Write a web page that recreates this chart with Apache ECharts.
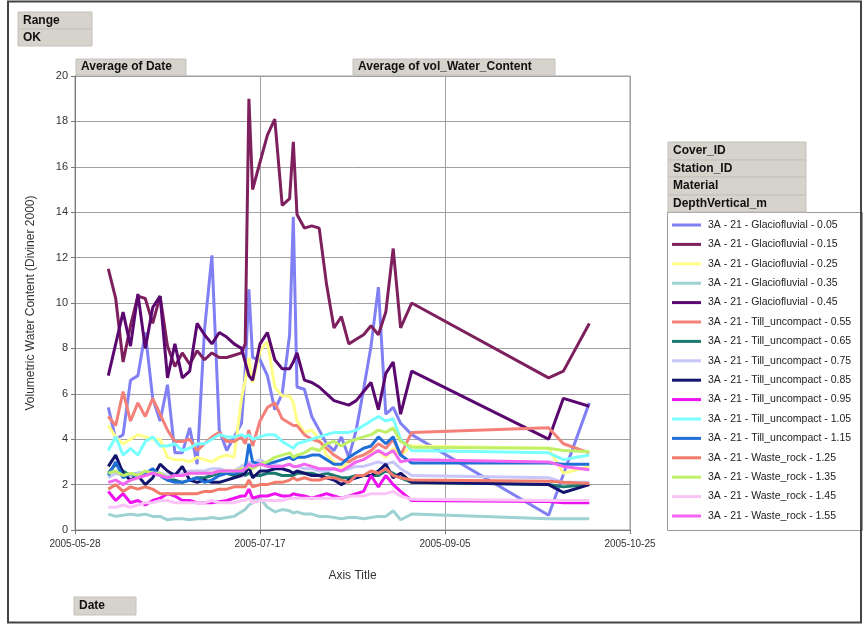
<!DOCTYPE html>
<html>
<head>
<meta charset="utf-8">
<script src="https://cdn.jsdelivr.net/npm/echarts@6/dist/echarts.min.js"></script>
<style>
  html, body { margin: 0; padding: 0; background: #fff; }
  #chart { width: 865px; height: 625px; }
</style>
</head>
<body>
<div id="chart"></div>
<script>
// Reading dates (Diviner 2000 probe, station 21, cover 3A)
const dates = [
  '2005-06-06','2005-06-08','2005-06-10','2005-06-12','2005-06-14','2005-06-16','2005-06-18',
  '2005-06-20','2005-06-22','2005-06-24','2005-06-26','2005-06-28','2005-06-30','2005-07-02',
  '2005-07-04','2005-07-06','2005-07-08','2005-07-10','2005-07-12','2005-07-13','2005-07-14',
  '2005-07-15','2005-07-17','2005-07-19','2005-07-21','2005-07-23','2005-07-25','2005-07-26',
  '2005-07-27','2005-07-29','2005-07-31','2005-08-02','2005-08-04','2005-08-06','2005-08-08',
  '2005-08-10','2005-08-12','2005-08-14','2005-08-16','2005-08-18','2005-08-20','2005-08-22',
  '2005-08-24','2005-08-27','2005-10-03','2005-10-07','2005-10-14'
];

// Average volumetric water content per depth (null = no reading that day)
const glacio005 = [5.4,4.0,4.2,6.6,6.8,8.7,5.8,4.8,6.4,3.4,3.4,4.5,2.9,8.8,12.1,4.4,3.5,4.1,4.7,7.0,10.6,7.6,7.5,6.8,5.3,6.0,8.6,13.8,6.3,6.2,5.0,4.4,3.8,3.5,4.1,3.2,4.4,6.2,8.1,10.7,5.1,5.4,4.7,4.2,0.65,null,5.6];
const glacio015 = [11.5,10.2,7.4,9.0,10.3,10.2,9.1,10.3,8.1,7.2,7.8,7.3,7.9,7.5,7.8,7.6,7.6,7.7,7.8,8.2,19.0,15.0,16.2,17.4,18.1,14.3,14.6,17.1,13.9,13.3,13.4,13.3,10.8,8.9,9.4,8.2,8.4,8.6,9.0,8.6,9.6,12.4,8.9,10.0,6.7,7.0,9.1];
const glacio025 = [4.6,4.1,3.8,4.0,4.2,4.1,4.0,4.0,3.2,3.1,3.1,3.0,3.2,3.1,3.0,3.2,3.3,3.2,5.8,6.6,7.6,6.5,7.9,8.3,6.3,5.9,5.9,5.6,4.8,4.3,4.4,4.0,3.3,3.0,2.7,3.0,3.2,3.3,3.4,3.5,3.2,3.6,3.3,3.7,3.6,2.5,2.8];
const glacio035 = [0.7,0.6,0.65,0.7,0.65,0.7,0.6,0.6,0.45,0.5,0.5,0.45,0.5,0.5,0.55,0.5,0.55,0.6,0.8,0.9,1.1,1.2,1.4,1.0,0.8,0.9,0.85,0.75,0.8,0.7,0.7,0.6,0.6,0.55,0.5,0.55,0.55,0.5,0.55,0.6,0.6,0.85,0.45,0.7,0.5,0.5,0.5];
const glacio045 = [6.8,8.2,9.6,8.1,10.4,8.0,9.8,10.3,6.7,8.2,6.7,7.0,9.1,8.6,8.2,8.7,8.5,8.2,8.0,7.4,6.8,6.6,8.2,8.7,7.5,7.1,7.1,7.4,7.8,6.6,6.5,6.3,6.0,5.7,5.6,5.5,5.7,6.1,6.5,5.3,6.9,7.4,5.1,7.0,4.0,5.8,5.45];
const till055 = [5.0,4.6,6.1,4.8,5.6,5.0,5.8,5.1,4.4,3.9,3.9,4.0,3.5,3.8,4.1,4.3,3.9,3.9,4.1,3.8,4.4,3.7,4.8,5.4,5.6,4.9,4.7,4.6,4.6,4.2,4.0,3.9,3.6,3.3,3.1,3.0,3.2,3.3,3.5,3.8,3.6,4.0,3.3,4.3,4.5,3.8,3.4];
const till065 = [2.5,2.9,2.6,2.4,2.5,2.5,2.6,2.4,2.2,2.2,2.1,2.2,2.3,2.3,2.4,2.5,2.5,2.4,2.5,2.4,2.5,2.4,2.4,2.5,2.5,2.4,2.4,2.4,2.5,2.5,2.5,2.4,2.5,2.4,2.3,2.3,2.4,2.4,2.4,2.4,2.6,2.5,2.3,2.1,2.0,1.9,2.0];
const till075 = [2.3,2.5,2.4,2.4,2.5,2.5,2.6,2.5,2.4,2.5,2.5,2.6,2.6,2.6,2.7,2.7,2.6,2.6,2.8,2.9,3.0,2.9,3.1,2.9,2.9,2.8,2.9,2.8,2.8,2.7,2.7,2.6,2.6,2.7,2.6,2.7,2.8,2.8,2.9,3.0,2.9,3.0,2.7,2.4,2.3,2.1,2.1];
const till085 = [2.8,3.3,2.5,2.2,2.4,2.0,2.3,2.9,2.6,2.4,2.8,2.2,2.1,2.2,2.1,2.1,2.2,2.3,2.4,2.5,2.8,2.3,2.6,2.6,2.7,2.7,2.6,2.5,2.6,2.5,2.4,2.4,2.3,2.2,2.0,2.2,2.3,2.4,2.4,2.6,2.9,2.3,2.5,2.1,2.0,1.65,2.0];
const till095 = [1.7,1.3,1.6,1.2,1.3,1.1,1.3,1.4,1.6,1.5,1.3,1.3,1.2,1.2,1.2,1.25,1.3,1.4,1.5,1.5,1.8,1.4,1.5,1.5,1.6,1.5,1.5,1.6,1.55,1.5,1.4,1.5,1.6,1.5,1.4,1.5,1.6,1.7,2.4,1.9,2.4,2.0,1.7,1.3,1.25,1.2,1.2];
const till105 = [3.5,4.1,3.3,3.6,3.3,3.9,4.1,3.7,3.7,3.8,3.5,3.6,3.8,3.8,4.0,4.2,4.1,4.1,4.2,4.1,4.2,4.0,4.1,4.2,4.2,3.9,3.7,3.6,3.8,3.9,4.0,4.1,4.2,4.3,4.3,4.3,4.4,4.6,4.8,5.0,4.8,4.9,4.0,3.5,3.4,3.1,3.3];
const till115 = [2.4,3.0,2.3,2.5,2.3,2.5,2.7,2.4,2.2,2.1,2.1,2.2,2.3,2.1,2.2,2.4,2.5,2.5,2.6,2.7,3.8,3.0,2.9,2.9,3.0,3.1,3.2,3.1,3.2,3.2,3.3,3.3,3.1,2.9,2.9,3.2,3.4,3.6,3.7,4.1,3.8,4.1,3.3,2.95,2.95,2.9,2.9];
const waste125 = [1.8,2.0,1.7,1.9,1.8,1.9,1.8,1.6,1.6,1.6,1.6,1.6,1.6,1.7,1.7,1.8,1.8,1.9,1.9,1.9,2.2,1.9,2.0,2.0,2.1,2.1,2.2,2.3,2.2,2.3,2.2,2.2,2.3,2.3,2.2,2.1,2.4,2.4,2.6,2.5,2.7,2.4,2.3,2.2,2.15,2.1,2.05];
const waste135 = [2.5,2.6,2.4,2.5,2.4,2.6,2.5,2.5,2.3,2.4,2.4,2.5,2.5,2.5,2.5,2.6,2.6,2.6,2.7,2.7,2.8,2.7,2.9,3.0,3.2,3.3,3.4,3.2,3.3,3.4,3.6,3.5,3.8,3.9,3.7,3.9,4.0,4.1,4.2,4.4,4.3,4.5,3.9,3.65,3.6,3.5,3.45];
const waste145 = [1.0,1.0,1.1,1.0,1.1,1.2,1.2,1.3,1.3,1.2,1.2,1.2,1.2,1.2,1.3,1.2,1.2,1.2,1.3,1.3,1.4,1.2,1.3,1.3,1.3,1.3,1.4,1.4,1.4,1.4,1.4,1.4,1.4,1.4,1.4,1.5,1.5,1.5,1.6,1.6,1.6,1.7,1.5,1.35,1.3,1.3,1.3];
const waste155 = [2.1,2.2,2.0,2.2,2.3,2.4,2.5,2.4,2.3,2.4,2.4,2.5,2.5,2.5,2.5,2.6,2.6,2.6,2.6,2.7,2.9,2.8,2.9,2.8,2.8,2.8,2.9,2.8,2.8,2.9,2.8,2.7,2.7,2.7,2.6,2.8,3.0,3.1,3.3,3.5,3.3,3.5,3.0,3.1,3.0,2.8,2.65];

const seriesNames = [
  '3A - 21 - Glaciofluvial - 0.05','3A - 21 - Glaciofluvial - 0.15','3A - 21 - Glaciofluvial - 0.25',
  '3A - 21 - Glaciofluvial - 0.35','3A - 21 - Glaciofluvial - 0.45','3A - 21 - Till_uncompact - 0.55',
  '3A - 21 - Till_uncompact - 0.65','3A - 21 - Till_uncompact - 0.75','3A - 21 - Till_uncompact - 0.85',
  '3A - 21 - Till_uncompact - 0.95','3A - 21 - Till_uncompact - 1.05','3A - 21 - Till_uncompact - 1.15',
  '3A - 21 - Waste_rock - 1.25','3A - 21 - Waste_rock - 1.35','3A - 21 - Waste_rock - 1.45',
  '3A - 21 - Waste_rock - 1.55'
];
const seriesValues = [glacio005, glacio015, glacio025, glacio035, glacio045, till055, till065, till075,
  till085, till095, till105, till115, waste125, waste135, waste145, waste155];
const seriesColors = ['#8080f4','#7e1f5e','#ffff88','#9ed2d2','#5a0870','#f4807a','#1a7a70','#c8c6fa',
  '#14146e','#ee10ee','#7affff','#2070d8','#f27a6a','#c0f068','#fac4f6','#f466f0'];

// Axis settings
const xStart = '2005-05-28';
const xEnd = '2005-10-25';
const xStepDays = 50;
const yMin = 0, yMax = 20, yStep = 2;

const DAY = 86400000;
const base = Date.parse(xStart + 'T00:00:00Z');
const toDay = d => (Date.parse(d + 'T00:00:00Z') - base) / DAY;
const fmtDay = v => new Date(base + v * DAY).toISOString().slice(0, 10);

const chart = echarts.init(document.getElementById('chart'), null, { renderer: 'canvas' });

const series = seriesValues.map((vals, i) => ({
  name: seriesNames[i],
  type: 'line',
  showSymbol: false,
  symbol: 'none',
  connectNulls: true,
  lineStyle: { width: 3, color: seriesColors[i] },
  itemStyle: { color: seriesColors[i] },
  data: dates.map((d, k) => [toDay(d), vals[k]])
}));

// Grey field buttons of the pivot chart
function fieldButton(x, y, w, h, label) {
  return {
    type: 'group', x: x, y: y,
    children: [
      { type: 'rect', shape: { x: 0, y: 0, width: w, height: h },
        style: { fill: '#d6d3cc', stroke: '#c4c1ba', lineWidth: 1 } },
      { type: 'text', x: 5, y: h / 2,
        style: { text: label, fill: '#111', font: 'bold 12px "Liberation Sans", Arial, sans-serif',
          verticalAlign: 'middle' } }
    ]
  };
}

const option = {
  animation: false,
  backgroundColor: '#ffffff',
  textStyle: { fontFamily: '"Liberation Sans", Arial, sans-serif' },
  grid: { left: 75, top: 76, right: 235, bottom: 95, containLabel: false,
    show: true, borderColor: '#999', borderWidth: 1 },
  xAxis: {
    type: 'value',
    min: 0, max: toDay(xEnd), interval: xStepDays,
    name: 'Axis Title', nameLocation: 'middle', nameGap: 40,
    nameTextStyle: { fontSize: 12, color: '#333' },
    axisLine: { show: true, onZero: false, lineStyle: { color: '#777' } },
    axisTick: { show: true, length: 4, lineStyle: { color: '#777' } },
    axisLabel: { fontSize: 10, color: '#333', margin: 9, formatter: fmtDay },
    splitLine: { show: true, lineStyle: { color: '#a0a0a0', width: 1 } }
  },
  yAxis: {
    type: 'value',
    min: yMin, max: yMax, interval: yStep,
    name: 'Volumetric Water Content (Diviner 2000)', nameLocation: 'middle', nameGap: 38,
    nameTextStyle: { fontSize: 12, color: '#333' },
    axisLine: { show: true, lineStyle: { color: '#777' } },
    axisTick: { show: true, length: 4, lineStyle: { color: '#777' } },
    axisLabel: { fontSize: 11, color: '#333', margin: 7 },
    splitLine: { show: true, lineStyle: { color: '#a0a0a0', width: 1 } }
  },
  legend: {
    orient: 'vertical',
    left: 672, top: 218,
    padding: 0,
    icon: 'rect',
    itemWidth: 29, itemHeight: 3,
    itemGap: 5.4,
    selectedMode: false,
    textStyle: { fontSize: 10.5, color: '#222', lineHeight: 14, padding: [0, 0, 0, 2] },
    data: seriesNames
  },
  graphic: [
    { type: 'rect', shape: { x: 8, y: 1.5, width: 853, height: 621 },
      style: { fill: 'none', stroke: '#444', lineWidth: 2 }, silent: true, z: 100 },
    { type: 'rect', shape: { x: 667.5, y: 212.5, width: 195, height: 318 },
      style: { fill: 'none', stroke: '#999', lineWidth: 1 }, silent: true },
    fieldButton(18, 12, 74, 17, 'Range'),
    fieldButton(18, 29, 74, 17, 'OK'),
    fieldButton(76, 59, 110, 16, 'Average of Date'),
    fieldButton(353, 59, 202, 16, 'Average of vol_Water_Content'),
    fieldButton(668, 142, 138, 18, 'Cover_ID'),
    fieldButton(668, 160, 138, 17, 'Station_ID'),
    fieldButton(668, 177, 138, 18, 'Material'),
    fieldButton(668, 195, 138, 17, 'DepthVertical_m'),
    fieldButton(74, 597, 62, 18, 'Date')
  ],
  series: series
};

chart.setOption(option);
</script>
</body>
</html>
